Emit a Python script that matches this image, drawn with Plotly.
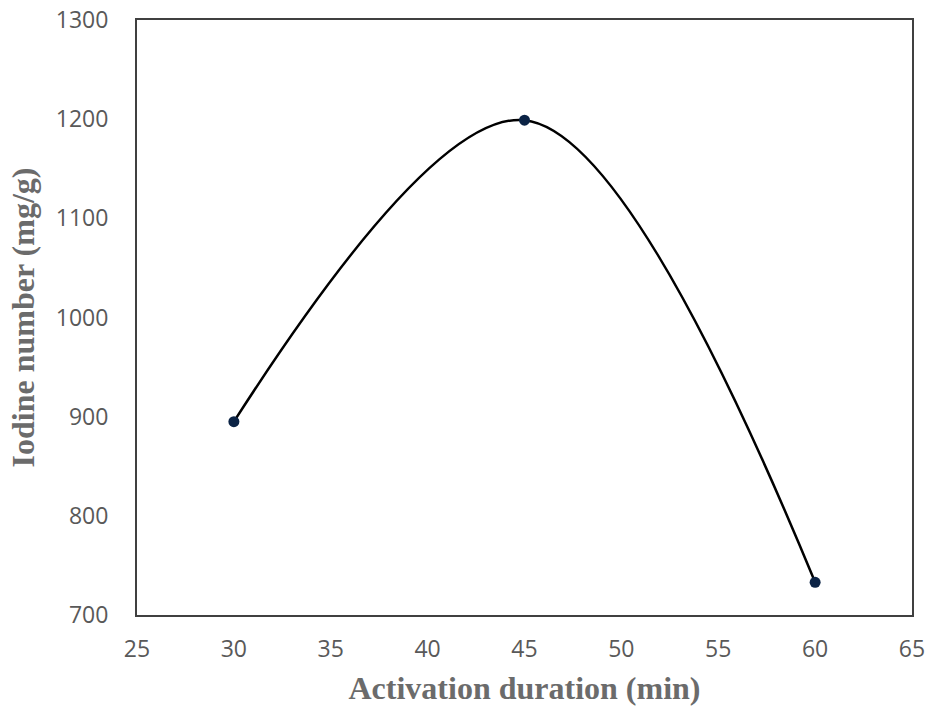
import plotly.graph_objects as go

# Activation duration (min) vs iodine number (mg/g)
duration_min = [30, 45, 60]
iodine_number = [895, 1199, 733]

x_ticks = [25, 30, 35, 40, 45, 50, 55, 60, 65]
y_ticks = [700, 800, 900, 1000, 1100, 1200, 1300]

fig = go.Figure()
fig.add_trace(go.Scatter(
    x=duration_min,
    y=iodine_number,
    mode="lines+markers",
    line=dict(color="black", width=2.5, shape="spline", smoothing=1.0),
    marker=dict(color="#0b2345", size=11),
    showlegend=False,
))

tick_font = dict(family="Open Sans", size=23, color="#595959")
title_font = dict(family="Liberation Serif", size=32, color="#6b6b6b")

fig.update_layout(
    width=931,
    height=713,
    margin=dict(l=137, r=19, t=20, b=98),
    plot_bgcolor="white",
    paper_bgcolor="white",
    xaxis=dict(
        range=[25, 65],
        tickvals=x_ticks,
        ticktext=[str(v) for v in x_ticks],
        showgrid=False,
        zeroline=False,
        showline=True,
        linecolor="#404040",
        linewidth=2,
        mirror=True,
        ticks="",
        ticklabelstandoff=12,
        tickfont=tick_font,
        automargin=False,
        title=dict(text="<b>Activation duration (min)</b>", font=title_font, standoff=14),
    ),
    yaxis=dict(
        range=[700, 1300],
        tickvals=y_ticks,
        ticktext=[str(v) for v in y_ticks],
        showgrid=False,
        zeroline=False,
        showline=True,
        linecolor="#404040",
        linewidth=2,
        mirror=True,
        ticks="",
        ticklabelstandoff=22,
        tickfont=tick_font,
        automargin=False,
        title=dict(text="<b>Iodine number (mg/g)</b>", font=title_font, standoff=12),
    ),
)

fig.write_html("out.html")
